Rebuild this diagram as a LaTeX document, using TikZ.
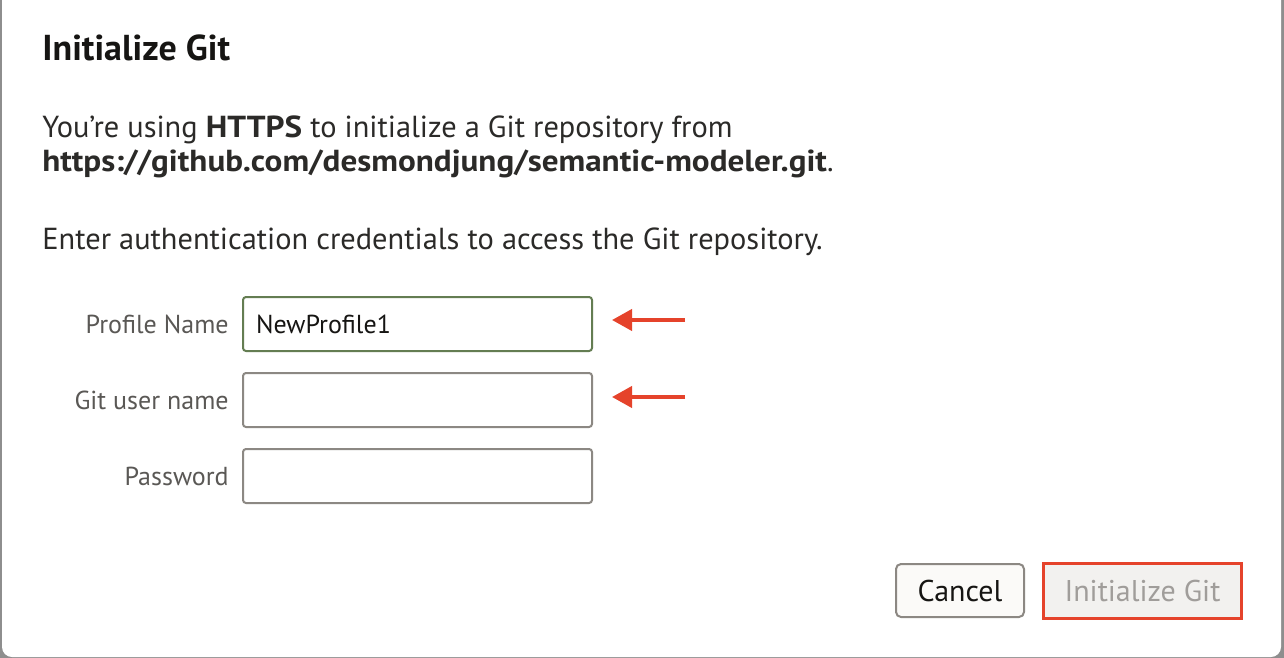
\documentclass[tikz,border=0pt]{standalone}
\usepackage{fontspec}
\setmainfont{PT Sans}
\newfontfamily\widebold[FakeStretch=1.09]{PT Sans Bold}
\usetikzlibrary{positioning,arrows.meta,calc}
\definecolor{dlgback}{HTML}{8E8E8E}
\definecolor{titletext}{HTML}{161513}
\definecolor{bodytext}{HTML}{2B2A28}
\definecolor{labeltext}{HTML}{5A5855}
\definecolor{fieldgray}{HTML}{8C8883}
\definecolor{fieldgreen}{HTML}{647D52}
\definecolor{markred}{HTML}{E5432B}
\definecolor{btnfill}{HTML}{FBFAF8}
\definecolor{btnoff}{HTML}{F2F1EF}
\definecolor{btnofftext}{HTML}{A09D9A}
\tikzset{
    title/.style={
        anchor=base west,
        inner sep=0pt,
        text=titletext,
        font=\fontsize{18}{22}\selectfont\bfseries
    },
    body/.style={
        anchor=base west,
        inner sep=0pt,
        text=bodytext,
        font=\fontsize{15.2}{18}\selectfont
    },
    field/.style={
        draw=fieldgray,
        line width=1pt,
        rounded corners=1.5pt,
        fill=white,
        anchor=north west,
        text width=161.5pt,
        inner xsep=6.5pt,
        inner ysep=0pt,
        minimum height=27pt,
        align=left,
        text=titletext,
        font=\fontsize{13}{16}\selectfont
    },
    fieldlabel/.style={
        inner sep=0pt,
        text=labeltext,
        font=\fontsize{13}{16}\selectfont
    },
    markarrow/.style={
        draw=markred,
        line width=2pt,
        -{Triangle[length=10pt,width=10.5pt]}
    },
    button/.style={
        draw=fieldgray,
        line width=1pt,
        rounded corners=2.5pt,
        fill=btnfill,
        text=titletext,
        minimum width=64pt,
        minimum height=26.5pt,
        inner sep=0pt,
        font=\fontsize{15}{18}\selectfont
    },
    offbutton/.style={
        draw=markred,
        line width=1.5pt,
        fill=btnoff,
        text=btnofftext,
        minimum width=99pt,
        minimum height=27.5pt,
        inner sep=0pt,
        font=\fontsize{15}{18}\selectfont
    },
}
\begin{document}
\begin{tikzpicture}[x=0.5pt, y=-0.5pt, node distance = 6.5pt and 6.5pt]
    \useasboundingbox (0,0) rectangle (1284,658);
    % dialog
    \fill[dlgback] (0,0) rectangle (1284,658);
    \fill[white, rounded corners=5pt] (2,-20) rectangle (1281,657);

    % texts
    \node[title] (head) at (42,61) {Initialize Git};
    \node[body] (line1) at (42,137) {You{\char"0027}re using {\widebold HTTPS} to initialize a Git repository from};
    \node[body] (line2) at (42,171) {{\widebold https://github.com/desmondjung/semantic-modeler.git}.};
    \node[body] (line3) at (42,249) {Enter authentication credentials to access the Git repository.};

    % fields
    \node[field, draw=fieldgreen] (pname) at (242,296) {NewProfile1};
    \node[field] (guser) at (242,372) {};
    \node[field] (pword) at (242,448) {};
    \node[fieldlabel, left= of pname] (pnamelbl) {Profile Name};
    \node[fieldlabel, left= of guser] (guserlbl) {Git user name};
    \node[fieldlabel, left= of pword] (pwordlbl) {Password};

    % arrows
    \coordinate (pnametail) at (685,320);
    \coordinate (gusertail) at (685,397);
    \draw[markarrow] (pnametail) -- (pnametail -| {$(pname.east)+(9.5pt,0)$});
    \draw[markarrow] (gusertail) -- (gusertail -| {$(guser.east)+(9.5pt,0)$});

    % buttons
    \node[button] (cancel) at (960,590.5) {Cancel};
    \node[offbutton] (init) at (1142.5,591) {Initialize Git};

\end{tikzpicture}
\end{document}
